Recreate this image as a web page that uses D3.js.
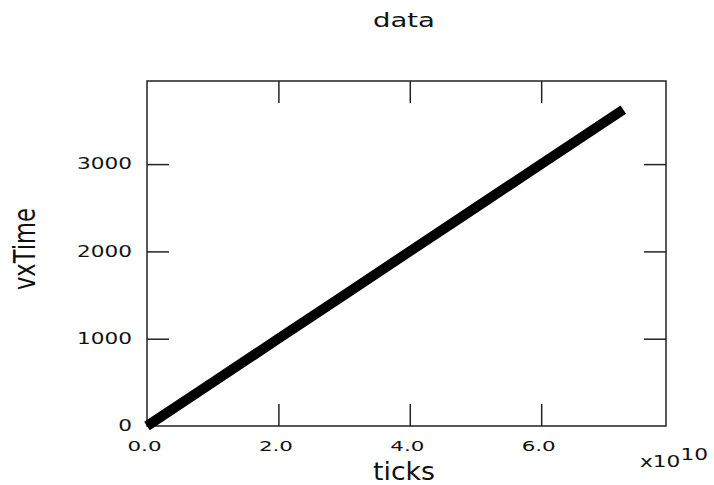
<!DOCTYPE html>
<html><head><meta charset="utf-8">
<script src="https://cdn.jsdelivr.net/npm/d3@7"></script>
<style>
html,body{margin:0;padding:0;background:#fff;}
text{font-family:"DejaVu Sans","Liberation Sans",Arial,sans-serif;fill:#111;}
</style></head>
<body>
<svg id="c" width="714" height="485"></svg>
<script>
// data
const ticksVals = [0, 1.0e10, 2.0e10, 3.0e10, 4.0e10, 5.0e10, 6.0e10, 7.25e10];
const vxTime    = [0, 500, 1000, 1500, 2000, 2500, 3000, 3625];
const xTickVals = [0, 2e10, 4e10, 6e10];
const xTickLabels = ["0.0", "2.0", "4.0", "6.0"];
const yTickVals = [0, 1000, 2000, 3000];
const yTickLabels = ["0", "1000", "2000", "3000"];

const svg = d3.select("#c");
const L = 147, R = 666, T = 81, B = 426;
const x = d3.scaleLinear().domain([0, 7.9e10]).range([L, R]);
const y = d3.scaleLinear().domain([0, 3952]).range([B, T]);

// frame
svg.append("rect").attr("x", L).attr("y", T).attr("width", R - L).attr("height", B - T)
  .attr("fill", "none").attr("stroke", "#222").attr("stroke-width", 1.5);

// axes (inner ticks)
const tl = 22;
const gx = svg.append("g").attr("transform", `translate(0,${B})`)
  .call(d3.axisBottom(x).tickValues(xTickVals).tickSize(-tl).tickSizeOuter(0).tickFormat((d,i)=>xTickLabels[i]).tickPadding(15))
  .call(g=>g.select(".domain").remove());
svg.append("g").attr("transform", `translate(0,${T})`)
  .call(d3.axisTop(x).tickValues(xTickVals.slice(1)).tickSize(-tl).tickSizeOuter(0).tickFormat(""))
  .call(g=>g.select(".domain").remove());
const gy = svg.append("g").attr("transform", `translate(${L},0)`)
  .call(d3.axisLeft(y).tickValues(yTickVals).tickSize(-tl).tickSizeOuter(0).tickFormat((d,i)=>yTickLabels[i]).tickPadding(15))
  .call(g=>g.select(".domain").remove());
svg.append("g").attr("transform", `translate(${R},0)`)
  .call(d3.axisRight(y).tickValues(yTickVals.slice(1)).tickSize(-tl).tickSizeOuter(0).tickFormat(""))
  .call(g=>g.select(".domain").remove());

svg.selectAll(".tick line").attr("stroke", "#222").attr("stroke-width", 1.5);
svg.selectAll("g").attr("font-family", null).attr("font-size", null);
gx.selectAll(".tick text").style("font-size", "14px").attr("dx", -3)
  .attr("textLength", 34).attr("lengthAdjust", "spacingAndGlyphs").attr("fill", "#111");
gy.selectAll(".tick text").style("font-size", "15px")
  .attr("textLength", function(){ return this.textContent.length * 13.75; })
  .attr("lengthAdjust", "spacingAndGlyphs").attr("fill", "#111");
svg.selectAll(".tick").filter(d => d === 0).selectAll("line").attr("stroke", "none");

// data line
const line = d3.line().x(d => x(d[0])).y(d => y(d[1]));
svg.append("path").datum(ticksVals.map((t, i) => [t, vxTime[i]]))
  .attr("d", line).attr("fill", "none").attr("stroke", "#000")
  .attr("stroke-width", 10).attr("stroke-linecap", "butt");

// labels
svg.append("text").attr("x", 404).attr("y", 27).attr("text-anchor", "middle")
  .style("font-size", "20px").attr("textLength", 62).attr("lengthAdjust", "spacingAndGlyphs").text("data");
svg.append("text").attr("x", 404).attr("y", 480).attr("text-anchor", "middle")
  .style("font-size", "24px").attr("textLength", 62).attr("lengthAdjust", "spacingAndGlyphs").text("ticks");
svg.append("text").attr("transform", "translate(35,249) rotate(-90)").attr("text-anchor", "middle")
  .style("font-size", "30px").attr("textLength", 82).attr("lengthAdjust", "spacingAndGlyphs").text("vxTime");
const ex = svg.append("text").attr("x", 640).attr("y", 467).style("font-size", "16px")
  .attr("textLength", 68).attr("lengthAdjust", "spacingAndGlyphs");
ex.append("tspan").text("x10");
ex.append("tspan").attr("dy", -7).text("10");
</script>
</body></html>
